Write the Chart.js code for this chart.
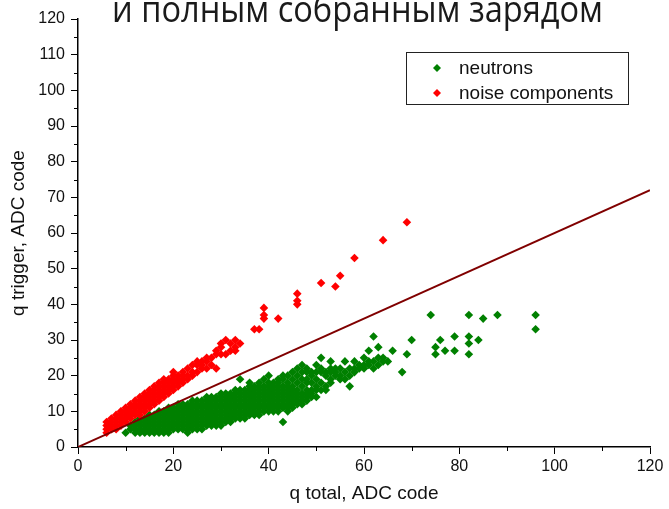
<!DOCTYPE html>
<html>
<head>
<meta charset="utf-8">
<script src="https://cdn.jsdelivr.net/npm/chart.js@4.4.1/dist/chart.umd.min.js"></script>
<style>
  html, body { margin: 0; padding: 0; background: #fff; }
</style>
</head>
<body>
<canvas id="myChart" width="669" height="509"></canvas>
<script>
// texts
var chartTitle = 'и полным собранным зарядом';
var xTitle = 'q total, ADC code';
var yTitle = 'q trigger, ADC code';

// tick labels
var xTickValues = [0, 20, 40, 60, 80, 100, 120];
var yTickValues = [0, 10, 20, 30, 40, 50, 60, 70, 80, 90, 100, 110, 120];
var xMinorTicks = [10, 30, 50, 70, 90, 110];
var yMinorTicks = [5, 15, 25, 35, 45, 55, 65, 75, 85, 95, 105, 115];

// each row: q total, then the q trigger values seen at that q total
var neutronColumns = [
    [10, 4],
    [11, 5, 6],
    [12, 4, 5, 6, 7],
    [13, 4, 5, 6, 7, 8],
    [14, 4, 5, 6, 7, 8],
    [15, 4, 5, 6, 7, 8, 9],
    [16, 4, 5, 6, 7, 8, 9],
    [17, 4, 5, 6, 7, 8, 9, 10],
    [18, 4, 5, 6, 7, 8, 9, 10],
    [19, 4, 5, 6, 7, 8, 9, 10, 11],
    [20, 5, 6, 7, 8, 9, 10, 11],
    [21, 5, 6, 7, 8, 9, 10, 11, 12],
    [22, 5, 6, 7, 8, 9, 10, 11, 12],
    [23, 4, 5, 6, 7, 8, 9, 10, 11, 12],
    [24, 5, 6, 7, 8, 9, 10, 11, 12, 13],
    [25, 5, 6, 7, 8, 9, 10, 11, 12, 13],
    [26, 5, 6, 7, 8, 9, 10, 11, 12, 13],
    [27, 6, 7, 8, 9, 10, 11, 12, 13, 14],
    [28, 6, 7, 8, 9, 10, 11, 12, 13, 14],
    [29, 6, 7, 8, 9, 10, 11, 12, 13, 14],
    [30, 6, 7, 8, 9, 10, 11, 12, 13, 14, 15],
    [31, 7, 8, 9, 10, 11, 12, 13, 14, 15],
    [32, 7, 8, 9, 10, 11, 12, 13, 14, 15],
    [33, 8, 9, 10, 11, 12, 13, 14, 15, 16],
    [34, 8, 9, 10, 11, 12, 13, 14, 15, 16, 19],
    [35, 8, 9, 10, 11, 12, 13, 14, 15, 16],
    [36, 9, 10, 11, 12, 13, 14, 15, 16, 17, 18],
    [37, 9, 10, 11, 12, 13, 14, 15, 16, 17],
    [38, 9, 10, 11, 12, 13, 14, 15, 16, 17, 18],
    [39, 10, 11, 12, 13, 14, 15, 16, 17, 19],
    [40, 10, 11, 12, 13, 14, 15, 16, 17, 18, 20],
    [41, 10, 11, 12, 13, 14, 15, 16, 17, 18],
    [42, 10, 11, 12, 13, 14, 15, 16, 17, 18, 19],
    [43, 7, 11, 12, 13, 14, 15, 16, 17, 19, 20],
    [44, 10, 11, 12, 13, 14, 15, 16, 17, 18, 20],
    [45, 11, 12, 13, 14, 15, 16, 17, 19, 21],
    [46, 12, 13, 14, 15, 16, 18, 20, 22],
    [47, 12, 13, 14, 15, 17, 19, 21, 23],
    [48, 13, 14, 15, 16, 18, 19, 21, 22],
    [49, 14, 15, 16, 18, 20, 21],
    [50, 14, 16, 17, 19, 21, 23],
    [51, 16, 18, 21, 22, 25],
    [52, 16, 17, 20, 21],
    [53, 18, 19, 21, 22, 24],
    [54, 20, 21, 22],
    [55, 19, 20, 22],
    [56, 19, 21, 24],
    [57, 17, 20, 22],
    [58, 21, 22, 24],
    [59, 22, 23],
    [60, 22, 23, 25],
    [61, 23, 24, 27],
    [62, 22, 24, 31],
    [63, 23, 25, 28],
    [64, 24, 25],
    [65, 24],
    [66, 27],
    [68, 21],
    [69, 26],
    [70, 30],
    [74, 37],
    [75, 26, 28],
    [76, 30],
    [77, 27],
    [79, 27, 31],
    [82, 26, 29, 31, 37],
    [84, 30],
    [85, 36],
    [88, 37],
    [96, 33, 37]
];

var noiseColumns = [
    [6, 4, 5, 6, 7],
    [7, 5, 6, 7, 8],
    [8, 5, 6, 7, 8, 9],
    [9, 6, 7, 8, 9, 10],
    [10, 7, 8, 9, 10, 11],
    [11, 8, 9, 10, 11, 12],
    [12, 9, 10, 11, 12, 13],
    [13, 9, 10, 11, 12, 13, 14],
    [14, 10, 11, 12, 13, 14, 15],
    [15, 11, 12, 13, 14, 15, 16],
    [16, 12, 13, 14, 15, 16, 17],
    [17, 13, 14, 15, 16, 17, 18],
    [18, 14, 15, 16, 17, 18, 19],
    [19, 15, 16, 17, 18, 19],
    [20, 16, 17, 18, 19, 20, 21],
    [21, 17, 18, 19, 20],
    [22, 18, 19, 20, 21],
    [23, 19, 20, 22],
    [24, 20, 21, 23],
    [25, 21, 23, 24],
    [26, 22, 23, 24],
    [27, 22, 24, 25],
    [28, 23, 25],
    [29, 22, 26, 27],
    [30, 26, 28, 29],
    [31, 26, 30],
    [32, 27, 29],
    [33, 27, 28, 30],
    [34, 29],
    [37, 33],
    [38, 33],
    [39, 36, 37, 39],
    [42, 36],
    [46, 40, 41, 43],
    [51, 46],
    [54, 45],
    [55, 48],
    [58, 53],
    [64, 58],
    [69, 63]
];

// separation line
var cutLineX = [0, 120];
var cutLineY = [0, 72];

function toPoints(columns) {
    var pts = [];
    columns.forEach(function (col) {
        for (var i = 1; i < col.length; i++) {
            pts.push({ x: col[0], y: col[i] });
        }
    });
    return pts;
}

var axisFont = { family: 'Liberation Sans, Arial, sans-serif', size: 16 };
var titleFont = { family: 'Liberation Sans, Arial, sans-serif', size: 19 };

// minor ticks, legend box and the clipped heading
var extras = {
    id: 'extras',
    afterDraw: function (chart) {
        var c = chart.ctx;
        var xs = chart.scales.x, ys = chart.scales.y;
        var area = chart.chartArea;
        c.save();
        c.strokeStyle = '#000';
        c.lineWidth = 1;
        c.beginPath();
        xMinorTicks.forEach(function (v) {
            var px = Math.round(xs.getPixelForValue(v)) + 0.5;
            c.moveTo(px, area.bottom);
            c.lineTo(px, area.bottom + 4);
        });
        yMinorTicks.forEach(function (v) {
            var py = Math.round(ys.getPixelForValue(v)) + 0.5;
            c.moveTo(area.left - 4, py);
            c.lineTo(area.left, py);
        });
        c.stroke();

        // legend
        c.fillStyle = '#fff';
        c.fillRect(406.5, 52.5, 222, 52);
        c.strokeStyle = '#222';
        c.strokeRect(406.5, 52.5, 222, 52);
        var items = [chart.data.datasets[1], chart.data.datasets[2]];
        c.font = '19px "Liberation Sans", Arial, sans-serif';
        c.textBaseline = 'middle';
        items.forEach(function (ds, i) {
            var cy = 68 + i * 25;
            c.fillStyle = ds.backgroundColor;
            c.beginPath();
            c.moveTo(437 - 4, cy);
            c.lineTo(437, cy - 4);
            c.lineTo(437 + 4, cy);
            c.lineTo(437, cy + 4);
            c.closePath();
            c.fill();
            c.fillStyle = '#111';
            c.fillText(ds.label, 459, cy + 1);
        });

        // heading, partly cut off by the top edge
        c.font = '36px "Open Sans", "Noto Sans", sans-serif';
        c.textBaseline = 'alphabetic';
        c.textAlign = 'left';
        var w = c.measureText(chartTitle).width;
        c.translate(112, 22);
        c.scale(491 / w, 1);
        c.fillStyle = '#1a1a1a';
        c.fillText(chartTitle, 0, 0);
        c.restore();
    }
};

var ctx = document.getElementById('myChart').getContext('2d');
var myChart = new Chart(ctx, {
    type: 'scatter',
    data: {
        datasets: [{
            type: 'line',
            label: 'cut',
            data: cutLineX.map(function (x, i) { return { x: x, y: cutLineY[i] }; }),
            borderColor: '#800000',
            borderWidth: 2,
            pointRadius: 0,
            fill: false,
            order: 0
        }, {
            label: 'neutrons',
            data: toPoints(neutronColumns),
            pointStyle: 'rectRot',
            pointRadius: 4.3,
            backgroundColor: '#008000',
            borderColor: '#008000',
            borderWidth: 0,
            order: 2
        }, {
            label: 'noise components',
            data: toPoints(noiseColumns),
            pointStyle: 'rectRot',
            pointRadius: 4.3,
            backgroundColor: '#ff0000',
            borderColor: '#ff0000',
            borderWidth: 0,
            order: 1
        }]
    },
    options: {
        responsive: false,
        animation: false,
        devicePixelRatio: 1,
        layout: { padding: { top: 19, right: 19, left: 0, bottom: 0 } },
        plugins: {
            legend: { display: false },
            tooltip: { enabled: false }
        },
        scales: {
            x: {
                type: 'linear',
                min: 0,
                max: 120,
                afterBuildTicks: function (s) {
                    s.ticks = xTickValues.map(function (v) { return { value: v }; });
                },
                afterFit: function (s) { s.height = 62; },
                grid: { drawOnChartArea: false, drawTicks: true, tickLength: 7, color: '#000' },
                border: { color: '#000', width: 1.5 },
                ticks: { color: '#111', font: axisFont, padding: 3, maxRotation: 0 },
                title: { display: true, text: xTitle, color: '#111', font: titleFont, padding: { top: 0, bottom: 4 } }
            },
            y: {
                type: 'linear',
                min: 0,
                max: 120,
                afterBuildTicks: function (s) {
                    s.ticks = yTickValues.map(function (v) { return { value: v }; });
                },
                afterFit: function (s) { s.width = 78; },
                grid: { drawOnChartArea: false, drawTicks: true, tickLength: 7, color: '#000' },
                border: { color: '#000', width: 1.5 },
                ticks: { color: '#111', font: axisFont, padding: 6 },
                title: { display: true, text: yTitle, color: '#111', font: titleFont, padding: { top: 7, bottom: 0 } }
            }
        }
    },
    plugins: [extras]
});
</script>
</body>
</html>
